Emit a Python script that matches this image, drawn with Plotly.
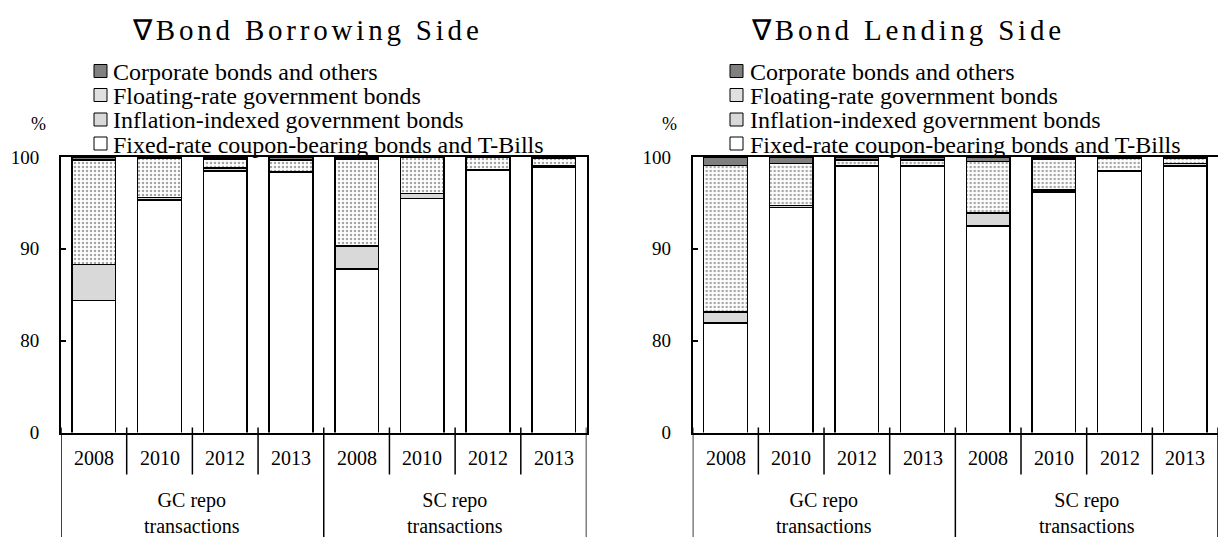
import plotly.graph_objects as go

# ---------------- data ----------------
group_labels = ["GC repo<br>transactions", "SC repo<br>transactions"]
years = ["2008", "2010", "2012", "2013"]
series_names = [
    "Fixed-rate coupon-bearing bonds and T-Bills",
    "Inflation-indexed government bonds",
    "Floating-rate government bonds",
    "Corporate bonds and others",
]
chart_titles = ["\u2207Bond Borrowing Side", "\u2207Bond Lending Side"]

# order of bars: GC 2008, 2010, 2012, 2013, SC 2008, 2010, 2012, 2013
borrow_fixed = [84.4, 95.3, 98.5, 98.3, 87.8, 95.5, 98.6, 98.9]
borrow_infl = [3.9, 0.3, 0.3, 0.1, 2.5, 0.5, 0.0, 0.2]
borrow_float = [11.4, 4.3, 1.0, 1.3, 9.5, 4.0, 1.4, 0.8]
borrow_corp = [0.3, 0.1, 0.2, 0.3, 0.2, 0.0, 0.0, 0.1]

lend_fixed = [81.9, 94.5, 99.0, 99.0, 92.5, 96.2, 98.5, 99.0]
lend_infl = [1.2, 0.2, 0.1, 0.1, 1.4, 0.2, 0.0, 0.3]
lend_float = [16.0, 4.6, 0.6, 0.6, 5.6, 3.4, 1.4, 0.6]
lend_corp = [0.9, 0.7, 0.3, 0.3, 0.5, 0.2, 0.1, 0.1]

y_tick_vals = [70, 80, 90, 100]
y_tick_text = ["0", "80", "90", "100"]

# ---------------- styles ----------------
W, H = 1218, 537
FONT = "Liberation Serif, Times New Roman, serif"


def px(x):
    return x / W


def py(y):
    return (H - y) / H


fills = [
    dict(color="white"),
    dict(color="#d9d9d9"),
    dict(color="white", pattern=dict(shape=".", size=4, solidity=0.32,
                                     fgcolor="#4a4a4a", bgcolor="white")),
    dict(color="#808080"),
]
swatch_colors = ["white", "#d9d9d9", "#e0e0e0", "#808080"]

charts = [
    [borrow_fixed, borrow_infl, borrow_float, borrow_corp],
    [lend_fixed, lend_infl, lend_float, lend_corp],
]
x_domains = [[px(61), px(586.5)], [px(692.7), 1.0]]
y_domain = [py(432.5), py(157)]
axis_left = [61, 692.7]
title_x = [130, 749]
legend_sq = [94, 730]
legend_tx = [111, 748]
legend_rows = [71, 95, 119.5, 143.5]

x_cats = [f"{g.split('<')[0]}|{y}" for g in group_labels for y in years]
year_row = [y for _ in group_labels for y in years]

fig = go.Figure()
annotations = []
shapes = []

for c, series in enumerate(charts):
    xa = "x" if c == 0 else "x2"
    ya = "y" if c == 0 else "y2"
    for s, vals in enumerate(series):
        fig.add_trace(go.Bar(
            x=x_cats, y=vals, name=series_names[s], xaxis=xa, yaxis=ya,
            marker=dict(line=dict(color="black", width=1.5), **fills[s]),
            showlegend=False,
        ))

    # title
    annotations.append(dict(
        text=chart_titles[c], xref="paper", yref="paper", x=px(title_x[c]),
        y=py(30), xanchor="left", yanchor="middle", align="left",
        showarrow=False, font=dict(family=FONT, size=29, color="black")))
    # percent sign
    annotations.append(dict(
        text="%", xref="paper", yref="paper", x=px(axis_left[c] - 23),
        y=py(124), xanchor="center", yanchor="middle", showarrow=False,
        font=dict(family=FONT, size=18, color="black")))
    # legend (drawn top to bottom: corporate, floating, inflation, fixed)
    for r, s in enumerate([3, 2, 1, 0]):
        cy = legend_rows[r]
        shapes.append(dict(
            type="rect", xref="paper", yref="paper",
            x0=px(legend_sq[c]), x1=px(legend_sq[c] + 13),
            y0=py(cy + 6.5), y1=py(cy - 6.5),
            fillcolor=swatch_colors[s], line=dict(color="black", width=1)))
        annotations.append(dict(
            text=series_names[s], xref="paper", yref="paper",
            x=px(legend_tx[c]), y=py(cy + 1), xanchor="left", yanchor="middle",
            align="left", showarrow=False,
            font=dict(family=FONT, size=24, color="black")))
    # category table: years
    for i, yr in enumerate(year_row):
        annotations.append(dict(
            text=yr, xref=xa, yref="paper", x=i, y=py(458),
            xanchor="center", yanchor="middle", showarrow=False,
            font=dict(family=FONT, size=20, color="black")))
    # category table: groups
    for g, gl in enumerate(group_labels):
        annotations.append(dict(
            text=gl, xref=xa, yref="paper", x=g * 4 + 1.5, y=py(513),
            xanchor="center", yanchor="middle", showarrow=False,
            font=dict(family=FONT, size=20, color="black")))
    # separators
    n = len(x_cats)
    for i in range(n + 1):
        xb = i - 0.5
        if i % len(years) == 0:
            y0, y1 = py(427.5), 0
        else:
            y0, y1 = py(427.5), py(474.5)
        shapes.append(dict(type="line", xref=xa, yref="paper", x0=xb, x1=xb,
                           y0=y0, y1=y1, line=dict(color="black", width=1.5)))

axis_common = dict(showline=True, linecolor="black", linewidth=2, mirror=True,
                   showgrid=False, zeroline=False, automargin=False)

fig.update_layout(
    width=W, height=H,
    margin=dict(l=0, r=0, t=0, b=0, pad=0, autoexpand=False),
    paper_bgcolor="white", plot_bgcolor="white",
    barmode="stack", bargap=0.335,
    font=dict(family=FONT, color="black"),
    xaxis=dict(domain=x_domains[0], anchor="y", type="category",
               range=[-0.5, 7.5], showticklabels=False, ticks="", **axis_common),
    xaxis2=dict(domain=x_domains[1], anchor="y2", type="category",
                range=[-0.5, 7.5], showticklabels=False, ticks="", **axis_common),
    yaxis=dict(domain=y_domain, anchor="x", range=[70, 100],
               tickvals=y_tick_vals, ticktext=y_tick_text, ticks="inside",
               ticklen=5, tickwidth=1.5, tickcolor="black", ticklabelstandoff=16,
               tickfont=dict(family=FONT, size=19, color="black"), **axis_common),
    yaxis2=dict(domain=y_domain, anchor="x2", range=[70, 100],
                tickvals=y_tick_vals, ticktext=y_tick_text, ticks="inside",
                ticklen=5, tickwidth=1.5, tickcolor="black", ticklabelstandoff=16,
                tickfont=dict(family=FONT, size=19, color="black"), **axis_common),
    annotations=annotations,
    shapes=shapes,
)

post = """
document.body.style.margin = '0';
document.querySelectorAll('.annotation-text').forEach(function(t){
  if (t.textContent.charAt(0) === '\\u2207') { t.style.letterSpacing = '3.8px'; }
});
"""

fig.write_html("out.html", post_script=post, config={"displayModeBar": False})
